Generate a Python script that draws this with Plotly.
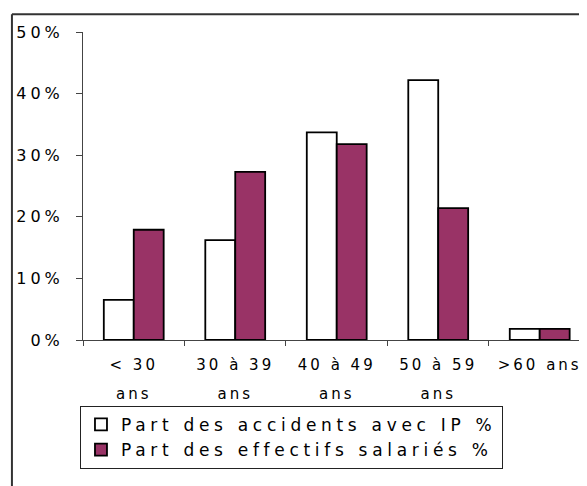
import plotly.graph_objects as go

# data
categories = ["< 30 ans", "30 à 39 ans", "40 à 49 ans", "50 à 59 ans", ">60 ans"]
tick_labels = ["&lt; 30<br>ans", "30 à 39<br>ans", "40 à 49<br>ans", "50 à 59<br>ans", "&gt;60 ans"]
accidents_ip = [0.065, 0.162, 0.337, 0.422, 0.018]
effectifs = [0.179, 0.273, 0.318, 0.214, 0.018]
y_ticks = [0, 0.1, 0.2, 0.3, 0.4, 0.5]


def spaced(text, px, extra=""):
    # wide letter spacing as in the original office chart
    return f"<span style='letter-spacing:{px}px{extra}'>{text}</span>"


def tick_text(label):
    lines = label.split("<br>")
    out = [spaced(lines[0], 3)]
    for line in lines[1:]:
        out.append(spaced(line, 3, ";baseline-shift:-9px"))
    return "<br>".join(out)


def build():
    fig = go.Figure()
    fig.add_trace(go.Bar(
        x=categories, y=accidents_ip, name=spaced("Part des accidents avec IP %", 4.7),
        marker=dict(color="white", line=dict(color="black", width=1.8)),
    ))
    fig.add_trace(go.Bar(
        x=categories, y=effectifs, name=spaced("Part des effectifs salariés %", 4.7),
        marker=dict(color="#993366", line=dict(color="black", width=1.8)),
    ))

    # outer frame of the chart area (only top and left edges fall inside the picture)
    fig.add_shape(type="line", xref="paper", yref="paper",
                  x0=-0.141, x1=-0.141, y0=1.058, y1=-0.6,
                  line=dict(color="#333333", width=2))
    fig.add_shape(type="line", xref="paper", yref="paper",
                  x0=-0.141, x1=1.05, y0=1.058, y1=1.058,
                  line=dict(color="#333333", width=2))

    fig.update_layout(
        width=579, height=478,
        margin=dict(l=75, r=0, t=24, b=146),
        paper_bgcolor="white", plot_bgcolor="white",
        font=dict(family="DejaVu Sans, Arial, sans-serif", size=15, color="black"),
        barmode="group", bargap=0.41, bargroupgap=0,
        showlegend=True,
        legend=dict(
            x=-0.006, y=-0.214, xanchor="left", yanchor="top",
            bordercolor="#222222", borderwidth=1, bgcolor="white",
            font=dict(size=17), tracegroupgap=0,
            entrywidth=430, entrywidthmode="pixels",
        ),
    )
    fig.update_xaxes(
        tickmode="array", tickvals=categories,
        ticktext=[tick_text(t) for t in tick_labels],
        range=[-0.5, 4.466],
        showline=True, linecolor="#444444", linewidth=1,
        ticks="outside", tickson="boundaries", ticklen=5, tickcolor="#444444",
        showgrid=False, ticklabelstandoff=11,
    )
    fig.update_yaxes(
        range=[0, 0.5],
        tickvals=y_ticks,
        ticktext=[spaced(f"{round(v * 100)}%", 4) for v in y_ticks],
        showline=True, linecolor="#444444", linewidth=1,
        ticks="outside", ticklen=6, tickcolor="#444444",
        showgrid=False, zeroline=False, ticklabelstandoff=9,
        tickfont=dict(size=16),
    )
    fig.write_html("out.html")


if __name__ == "__main__":
    build()
